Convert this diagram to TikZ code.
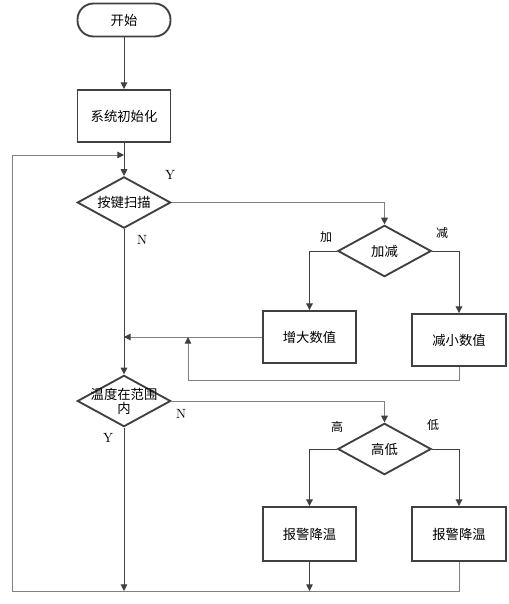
\documentclass[tikz,border=0pt]{standalone}
\usepackage{fontspec}
\newfontfamily\cjk{Noto Sans CJK SC}
\usetikzlibrary{arrows.meta, positioning, shapes.geometric}
\definecolor{flowgray}{RGB}{64,64,64}
\definecolor{softgray}{RGB}{128,128,128}

\begin{document}
\begin{tikzpicture}[x=0.75pt, y=-0.75pt,
  font=\cjk\fontsize{10}{12}\selectfont,
  box/.style={draw=flowgray, line width=1.4pt, minimum width=69.75pt, minimum height=39pt, inner sep=0pt},
  term/.style={box, rounded corners=12pt, minimum height=24.75pt},
  choice/.style={draw=flowgray, line width=1.4pt, diamond, aspect=1.8, minimum width=70pt, minimum height=38.5pt, inner sep=0pt},
  flow/.style={draw=flowgray, line width=0.7pt, -{Triangle[length=5pt,width=5pt]}},
  back/.style={draw=softgray, line width=0.7pt, -{Triangle[length=5pt,width=5pt,color=flowgray]}},
  yn/.style={font=\fontsize{10}{12}\selectfont},
  side/.style={font=\cjk\fontsize{9}{11}\selectfont}
]
  \useasboundingbox (0,0) rectangle (509,604);
  % main column
  \node[term] (start) at (124,20) {开始};
  \node[box] (init) at (124,116) {系统初始化};
  \node[choice] (scan) at (124,202.5) {按键扫描};
  \node[choice, label={[align=center, font=\cjk\fontsize{10}{10.5}\selectfont]center:温度在范围\\内}] (temp) at (124,401) {};

  % key branch
  \node[choice] (addsub) at (384.5,251) {加减};
  \node[box] (inc) at (309.5,337) {增大数值};
  \node[box, minimum width=70.5pt] (dec) at (459,340) {减小数值};

  % temperature branch
  \node[choice] (hilo) at (384.5,449) {高低};
  \node[box, minimum height=40.5pt] (warn1) at (309.5,534) {报警降温};
  \node[box, minimum width=70.5pt, minimum height=40.5pt] (warn2) at (459,534) {报警降温};

  \coordinate (top) at (124,155);
  \coordinate (bot) at (124,591);
  \coordinate (ret) at (188,337);

  \draw[flow] (start) -- (init);
  \draw[flow] (init) -- (scan);
  \draw[back] (scan.east) -| (addsub.north);
  \draw[flow] (addsub.west) -| (inc.north);
  \draw[flow] (addsub.east) -| (dec.north);
  \draw[back] (inc.west) -- (inc.west -| scan.south);
  \draw[back] (dec.south) -- ++(0,14) -| (ret);
  \draw[flow] (scan) -- (temp);
  \draw[back] (temp.east) -| (hilo.north);
  \draw[flow] (hilo.west) -| (warn1.north);
  \draw[flow] (hilo.east) -| (warn2.north);
  \draw[flow] (warn1) -- (warn1 |- bot);
  \draw[flow] (temp) -- (bot);
  \draw[back] (warn2.south) |- (12,591) |- (top);

  % branch labels
  \node[yn] (y1) at (170,175) {Y};
  \node[yn] (n1) at (142,240) {N};
  \node[side] (add) at (326,237) {加};
  \node[side] (sub) at (442,233) {减};
  \node[yn] (n2) at (181,414) {N};
  \node[yn] (y2) at (108,438) {Y};
  \node[side] (hi) at (337,427) {高};
  \node[side] (lo) at (433,425) {低};
\end{tikzpicture}
\end{document}
